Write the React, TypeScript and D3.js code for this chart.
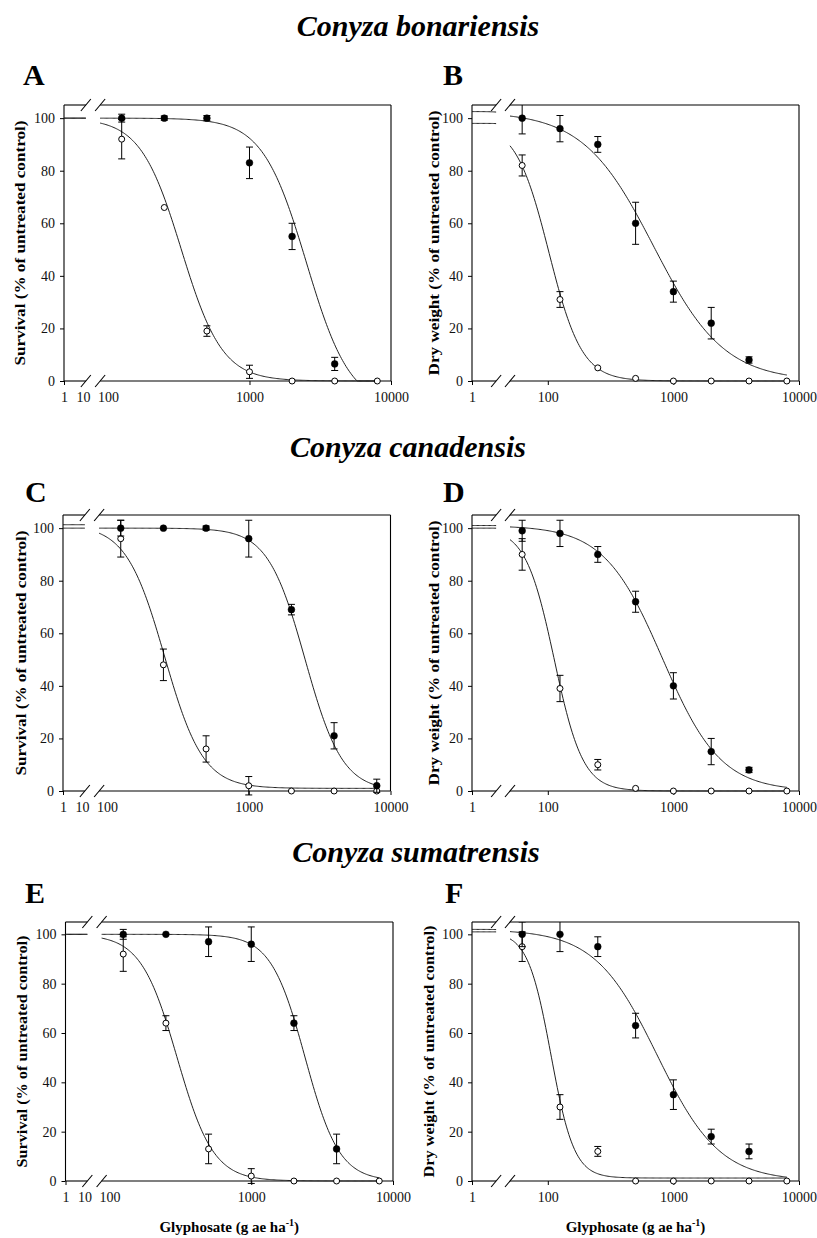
import * as d3 from "d3";
import { useEffect, useRef } from "react";

const W = 817;
const H = 1238;

// doses, g ae ha-1
const survivalDoses = [125, 250, 500, 1000, 2000, 4000, 8000];
const dryDoses = [62.5, 125, 250, 500, 1000, 2000, 4000, 8000];

const speciesTitles = ["Conyza bonariensis", "Conyza canadensis", "Conyza sumatrensis"];
const panelLetters = ["A", "B", "C", "D", "E", "F"];
const survivalTicks = [1, 10, 100, 1000, 10000];
const dryTicks = [1, 100, 1000, 10000];
const yTicks = [0, 20, 40, 60, 80, 100];
// where the broken x axis is cut (dose left of gap, dose right of gap)
const survivalBreak = [15, 88];
const dryBreak = [12, 50];

// C. bonariensis
const aFilled = [100, 100, 100, 83, 55, 6.5, null];
const aFilledErr = [1.5, 0.8, 1, 6, 5, 2.5, 0];
const aOpen = [92, 66, 19, 3.5, 0, 0, 0];
const aOpenErr = [7.5, 0.5, 2, 2.5, 0, 0, 0];
const bFilled = [100, 96, 90, 60, 34, 22, 8, null];
const bFilledErr = [6, 5, 3, 8, 4, 6, 1.2, 0];
const bOpen = [82, 31, 5, 1, 0, 0, 0, 0];
const bOpenErr = [4, 3, 0.5, 0.5, 0, 0, 0, 0];

// C. canadensis
const cFilled = [100, 100, 100, 96, 69, 21, 2];
const cFilledErr = [3, 0.5, 0.8, 7, 2, 5, 2.5];
const cOpen = [96, 48, 16, 2, 0, 0, 0];
const cOpenErr = [7, 6, 5, 3.5, 0, 0, 0];
const dFilled = [99, 98, 90, 72, 40, 15, 8, null];
const dFilledErr = [4, 5, 3, 4, 5, 5, 1, 0];
const dOpen = [90, 39, 10, 1, 0, 0, 0, 0];
const dOpenErr = [6, 5, 2, 0.5, 0, 0, 0, 0];

// C. sumatrensis
const eFilled = [100, 100, 97, 96, 64, 13, null];
const eFilledErr = [2, 0.5, 6, 7, 3, 6, 0];
const eOpen = [92, 64, 13, 2, 0, 0, 0];
const eOpenErr = [7, 3, 6, 3, 0, 0, 0];
const fFilled = [100, 100, 95, 63, 35, 18, 12, null];
const fFilledErr = [5, 7, 4, 5, 6, 3, 3, 0];
const fOpen = [95, 30, 12, 0, 0, 0, 0, 0];
const fOpenErr = [6, 5, 2, 0, 0, 0, 0, 0];

// fitted log-logistic curves: [upper, lower, ED50, slope]
const aFilledFit = [100, -10, 2527, 2.8];
const aOpenFit = [100, 0, 330, 3.0];
const bFilledFit = [102.5, 0, 696, 1.55];
const bOpenFit = [98, 0, 102, 3.3];
const cFilledFit = [100, 0, 2500, 3.3];
const cOpenFit = [101.3, 1, 255, 3.2];
const dFilledFit = [101, 0, 817, 1.87];
const dOpenFit = [100, 0, 112.6, 3.8];
const eFilledFit = [100, 0, 2400, 3.6];
const eOpenFit = [100, 0, 300, 3.4];
const fFilledFit = [102, 0, 743, 1.75];
const fOpenFit = [101, 1.2, 106, 4.7];

const panels = [
  { kind: "survival", filled: aFilled, filledErr: aFilledErr, open: aOpen, openErr: aOpenErr, fits: [aFilledFit, aOpenFit] },
  { kind: "dry", filled: bFilled, filledErr: bFilledErr, open: bOpen, openErr: bOpenErr, fits: [bFilledFit, bOpenFit] },
  { kind: "survival", filled: cFilled, filledErr: cFilledErr, open: cOpen, openErr: cOpenErr, fits: [cFilledFit, cOpenFit] },
  { kind: "dry", filled: dFilled, filledErr: dFilledErr, open: dOpen, openErr: dOpenErr, fits: [dFilledFit, dOpenFit] },
  { kind: "survival", filled: eFilled, filledErr: eFilledErr, open: eOpen, openErr: eOpenErr, fits: [eFilledFit, eOpenFit] },
  { kind: "dry", filled: fFilled, filledErr: fFilledErr, open: fOpen, openErr: fOpenErr, fits: [fFilledFit, fOpenFit] },
];

// page layout
const boxes = [
  { x0: 64, x1: 391, top: 105, bottom: 381 },
  { x0: 472, x1: 799, top: 105, bottom: 381 },
  { x0: 63, x1: 390.5, top: 515, bottom: 791 },
  { x0: 472, x1: 799, top: 515, bottom: 791 },
  { x0: 65.5, x1: 393, top: 922, bottom: 1181 },
  { x0: 472, x1: 799, top: 922, bottom: 1181 },
];
const letterPos = [[23, 85], [443, 85], [25, 502], [443, 502], [25, 903], [445, 903]];
const yTitlePos = [[20, 245], [434, 265], [20.5, 245], [433.5, 265], [21.5, 232], [428.5, 252]];
const titlePos = [[418, 36], [408, 457], [416, 862]];

const FONT = "'Liberation Serif', 'Times New Roman', serif";

function logLogistic(p: number[], x: number) {
  const [d, c, e, b] = p;
  return c + (d - c) / (1 + Math.pow(x / e, b));
}

function App() {
  const ref = useRef<SVGSVGElement>(null);

  useEffect(() => {
    document.body.style.margin = "0";
    const svg = d3.select(ref.current);
    svg.selectAll("*").remove();
    svg.style("font-family", FONT);

    // species titles
    speciesTitles.forEach((t, i) => {
      svg
        .append("text")
        .attr("x", titlePos[i][0])
        .attr("y", titlePos[i][1])
        .attr("text-anchor", "middle")
        .style("font-size", "30px")
        .style("font-weight", "bold")
        .style("font-style", "italic")
        .text(t);
    });

    panels.forEach((p, i) => {
      const box = boxes[i];
      const surv = p.kind === "survival";
      const doses = surv ? survivalDoses : dryDoses;
      const brk = surv ? survivalBreak : dryBreak;

      const x = surv
        ? d3.scaleLog().domain([1, 10, 85, 10000]).range([box.x0, box.x0 + 19, box.x0 + 34, box.x1])
        : d3.scaleLog().domain([1, 50, 10000]).range([box.x0, box.x0 + 38, box.x1]);
      const y = d3.scaleLinear().domain([0, 105]).range([box.bottom, box.top]);

      const g = svg.append("g");

      // panel letter
      g.append("text")
        .attr("x", letterPos[i][0])
        .attr("y", letterPos[i][1])
        .style("font-size", "30px")
        .style("font-weight", "bold")
        .text(panelLetters[i]);

      // y axis
      const yAxis = g
        .append("g")
        .attr("transform", `translate(${box.x0},0)`)
        .call(d3.axisLeft(y).tickValues(yTicks).tickSize(4).tickPadding(5).tickFormat(d3.format("d")));
      yAxis.select(".domain").remove();
      yAxis.selectAll("text").style("font-size", "14px").style("font-family", FONT).attr("fill", "#111");

      // x axis
      const xAxis = g
        .append("g")
        .attr("transform", `translate(0,${box.bottom})`)
        .call(
          d3
            .axisBottom(x)
            .tickValues(surv ? survivalTicks : dryTicks)
            .tickSize(4)
            .tickPadding(7)
            .tickFormat(d3.format("d"))
        );
      xAxis.select(".domain").remove();
      xAxis.selectAll("text").style("font-size", "14px").style("font-family", FONT).attr("fill", "#111");
      if (surv) {
        xAxis
          .selectAll(".tick line")
          .filter((d: any) => d === 10 || d === 100)
          .remove();
      }

      // frame with broken x axis
      const xa = x(brk[0]);
      const xb = x(brk[1]);
      const frame = g.append("g").attr("stroke", "#000").attr("stroke-width", 1.1).attr("fill", "none");
      [box.top, box.bottom].forEach((yy) => {
        frame.append("line").attr("x1", box.x0).attr("x2", xa).attr("y1", yy).attr("y2", yy);
        frame.append("line").attr("x1", xb).attr("x2", box.x1).attr("y1", yy).attr("y2", yy);
        [xa, xb].forEach((cx) => {
          frame
            .append("line")
            .attr("x1", cx - 5)
            .attr("y1", yy + 6)
            .attr("x2", cx + 5)
            .attr("y2", yy - 6);
        });
      });
      frame.append("line").attr("x1", box.x0).attr("x2", box.x0).attr("y1", box.top).attr("y2", box.bottom);
      frame.append("line").attr("x1", box.x1).attr("x2", box.x1).attr("y1", box.top).attr("y2", box.bottom);

      // clip to the plot area
      const clipId = `clip${i}`;
      svg
        .append("clipPath")
        .attr("id", clipId)
        .append("rect")
        .attr("x", box.x0)
        .attr("y", box.top)
        .attr("width", box.x1 - box.x0)
        .attr("height", box.bottom - box.top + 6);
      const plot = g.append("g").attr("clip-path", `url(#${clipId})`);

      // fitted curves
      const line = d3
        .line<number>()
        .x((d) => x(d))
        .y(0)
        .curve(d3.curveLinear);
      p.fits.forEach((fit) => {
        const left = d3.range(0, 21).map((k) => Math.pow(10, (k / 20) * Math.log10(brk[0])));
        const lo = Math.log10(brk[1]);
        const hi = Math.log10(8000);
        const right = d3.range(0, 241).map((k) => Math.pow(10, lo + (k / 240) * (hi - lo)));
        [left, right].forEach((xs) => {
          plot
            .append("path")
            .attr("fill", "none")
            .attr("stroke", "#222")
            .attr("stroke-width", 1)
            .attr(
              "d",
              line.y((d) => y(Math.max(0, logLogistic(fit, d))))(xs)
            );
        });
      });

      // error bars and points
      const series = [
        { vals: p.open, err: p.openErr, filled: false },
        { vals: p.filled, err: p.filledErr, filled: true },
      ];
      series.forEach((s) => {
        const pts = doses
          .map((d, k) => ({ d, v: s.vals[k], e: s.err[k] }))
          .filter((q) => q.v !== null && q.v !== undefined) as { d: number; v: number; e: number }[];
        const eb = plot.append("g").attr("stroke", "#000").attr("stroke-width", 1);
        pts
          .filter((q) => q.e > 0.6)
          .forEach((q) => {
            const cx = x(q.d);
            eb.append("line").attr("x1", cx).attr("x2", cx).attr("y1", y(q.v - q.e)).attr("y2", y(q.v + q.e));
            [q.v - q.e, q.v + q.e].forEach((v) => {
              eb.append("line")
                .attr("x1", cx - 3.5)
                .attr("x2", cx + 3.5)
                .attr("y1", y(v))
                .attr("y2", y(v));
            });
          });
        plot
          .append("g")
          .selectAll("circle")
          .data(pts)
          .enter()
          .append("circle")
          .attr("cx", (q) => x(q.d))
          .attr("cy", (q) => y(q.v))
          .attr("r", s.filled ? 3.4 : 3)
          .attr("fill", s.filled ? "#000" : "#fff")
          .attr("stroke", "#000")
          .attr("stroke-width", s.filled ? 0.5 : 1);
      });

      // y axis title
      const [tx, tlen] = yTitlePos[i];
      const cy = (box.top + box.bottom) / 2;
      g.append("text")
        .attr("transform", `translate(${tx + 5},${cy}) rotate(-90)`)
        .attr("text-anchor", "middle")
        .attr("textLength", tlen)
        .attr("lengthAdjust", "spacingAndGlyphs")
        .style("font-size", "15px")
        .style("font-weight", "bold")
        .text(surv ? "Survival (% of untreated control)" : "Dry weight (% of untreated control)");

      // x axis title on the bottom row
      if (i >= 4) {
        const t = g
          .append("text")
          .attr("x", (box.x0 + box.x1) / 2)
          .attr("y", 1232)
          .attr("text-anchor", "middle")
          .style("font-size", "15px")
          .style("font-weight", "bold");
        t.append("tspan").text("Glyphosate (g ae ha");
        t.append("tspan").attr("dy", -6).style("font-size", "10px").text("-1");
        t.append("tspan").attr("dy", 6).text(")");
      }
    });
  }, []);

  return <svg ref={ref} width={W} height={H} style={{ display: "block", background: "#fff" }} />;
}

export default App;
